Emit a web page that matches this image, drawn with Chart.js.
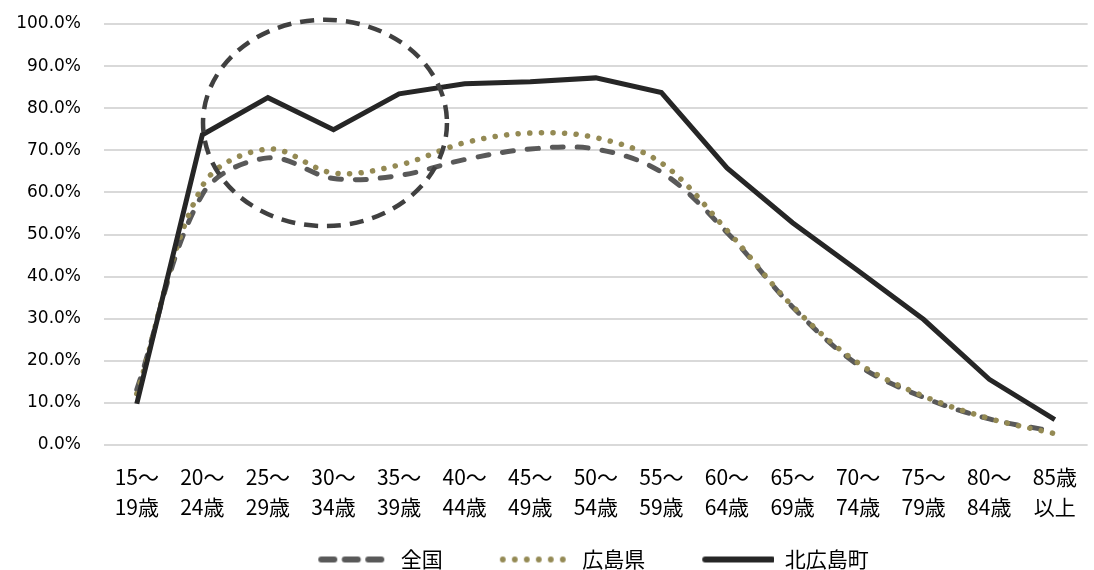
<!DOCTYPE html>
<html>
<head>
<meta charset="utf-8">
<title>労働力率</title>
<script src="https://cdn.jsdelivr.net/npm/chart.js@4"></script>
<style>
  body { margin: 0; background: #fff; }
</style>
</head>
<body>
<canvas id="graphi" width="1094" height="570"></canvas>
<script>
// Datos (%)
const ageLabels = [
    ['15～', '19歳'], ['20～', '24歳'], ['25～', '29歳'], ['30～', '34歳'], ['35～', '39歳'],
    ['40～', '44歳'], ['45～', '49歳'], ['50～', '54歳'], ['55～', '59歳'], ['60～', '64歳'],
    ['65～', '69歳'], ['70～', '74歳'], ['75～', '79歳'], ['80～', '84歳'], ['85歳', '以上']
];
const seriesNames = ['全国', '広島県', '北広島町'];
const zenkoku = [13.2, 59.5, 68.2, 63.3, 64.0, 67.8, 70.3, 70.3, 64.8, 50.5, 32.8, 19.0, 11.3, 6.2, 3.2];
const hiroshimaKen = [12.2, 61.5, 70.3, 64.6, 66.5, 71.8, 74.1, 73.0, 67.0, 51.0, 33.0, 19.5, 11.6, 6.3, 2.7];
const kitahiroshima = [9.8, 73.7, 82.5, 74.9, 83.4, 85.8, 86.3, 87.2, 83.7, 65.8, 52.8, 41.4, 29.8, 15.6, 6.0];
const yTicks = [0, 10, 20, 30, 40, 50, 60, 70, 80, 90, 100];

// elipse punteada (centro en índice de categoría / %)
const ellipse = {cx: 2.87, cy: 76.5, rx: 1.86, ry: 24.5};

const LEAD = 47;
const SAMPLE = 72;

const makeSample = (kind)=>{
    const c = document.createElement('canvas');
    c.width = LEAD + SAMPLE;
    c.height = 10;
    const ctx = c.getContext('2d');
    ctx.lineCap = 'round';
    ctx.lineWidth = 6;
    if (kind === 'dash') {
        ctx.strokeStyle = '#595959';
        for (let k = 0; k < 3; k++) {
            const x1 = LEAD + 3 + k * 23.5;
            ctx.beginPath();
            ctx.moveTo(x1, 5);
            ctx.lineTo(x1 + 13, 5);
            ctx.stroke();
        }
    } else if (kind === 'dot') {
        ctx.fillStyle = '#948a54';
        for (let k = 0; k < 6; k++) {
            ctx.beginPath();
            ctx.arc(LEAD + 3 + k * 12, 5, 2.9, 0, Math.PI * 2);
            ctx.fill();
        }
    } else {
        ctx.strokeStyle = '#262626';
        ctx.beginPath();
        ctx.moveTo(LEAD + 3, 5);
        ctx.lineTo(LEAD + 70, 5);
        ctx.stroke();
    }
    return c;
}

const ellipsePlugin = {
    id: 'ellipse',
    afterLayout(chart) {
        // la leyenda del original está algo desplazada a la derecha
        chart.legend.left += 46;
    },
    afterDatasetsDraw(chart) {
        const {ctx, scales: {x, y}} = chart;
        const cx = x.getPixelForValue(ellipse.cx);
        const cy = y.getPixelForValue(ellipse.cy);
        const rx = x.getPixelForValue(ellipse.cx + ellipse.rx) - cx;
        const ry = y.getPixelForValue(ellipse.cy - ellipse.ry) - cy;
        ctx.save();
        ctx.strokeStyle = '#404040';
        ctx.lineWidth = 4.5;
        ctx.setLineDash([14, 9]);
        ctx.beginPath();
        ctx.ellipse(cx, cy, rx, ry, 0, 0, Math.PI * 2);
        ctx.stroke();
        ctx.restore();
    }
}

const renderChart = ()=>{
    const samples = [makeSample('dash'), makeSample('dot'), makeSample('solid')];

    const data = {
        labels: ageLabels,
        datasets: [{
            label: seriesNames[0],
            data: zenkoku,
            order: 3,
            borderColor: '#595959',
            borderWidth: 5,
            borderDash: [11, 14],
            borderCapStyle: 'round',
            tension: 0.35,
            pointRadius: 0
        }, {
            label: seriesNames[1],
            data: hiroshimaKen,
            order: 2,
            borderColor: '#948a54',
            borderWidth: 5.5,
            borderDash: [0.1, 11.5],
            borderCapStyle: 'round',
            tension: 0.35,
            pointRadius: 0
        }, {
            label: seriesNames[2],
            data: kitahiroshima,
            order: 1,
            borderColor: '#262626',
            borderWidth: 5,
            borderJoinStyle: 'miter',
            tension: 0,
            pointRadius: 0
        }]
    }

    const options = {
        responsive: false,
        animation: false,
        layout: {padding: {top: 24, left: 0, right: 0, bottom: -10}},
        scales: {
            x: {
                offset: true,
                grid: {display: false, drawTicks: false, tickLength: 0, offset: true},
                border: {display: false},
                ticks: {
                    color: '#000',
                    padding: 17,
                    maxRotation: 0,
                    autoSkip: false,
                    font: {family: '"Noto Sans CJK JP"', size: 21, lineHeight: '30px'}
                },
                afterFit: (scale)=>{ scale.height = 94; }
            },
            y: {
                min: 0,
                max: 100,
                afterBuildTicks: (scale)=>{ scale.ticks = yTicks.map(v => ({value: v})); },
                grid: {color: '#d9d9d9', lineWidth: 2, drawTicks: false},
                border: {display: false},
                ticks: {
                    color: '#000',
                    padding: 23,
                    font: {family: '"DejaVu Sans"', size: 17},
                    callback: (v)=> v.toFixed(1) + '%'
                },
                afterFit: (scale)=>{
                    scale.width = 104;
                    // el padding de las etiquetas no debe empujar el área hacia abajo
                    scale.paddingTop = 10;
                    scale.paddingBottom = 10;
                }
            }
        },
        plugins: {
            legend: {
                position: 'bottom',
                labels: {
                    usePointStyle: true,
                    pointStyleWidth: LEAD + SAMPLE,
                    padding: 10,
                    color: '#000',
                    font: {family: '"Noto Sans CJK JP"', size: 21},
                    generateLabels: (chart)=> chart.data.datasets.map((ds, i)=>({
                        text: ds.label,
                        pointStyle: samples[i],
                        datasetIndex: i,
                        lineWidth: 0,
                        fontColor: '#000'
                    }))
                }
            },
            tooltip: {enabled: false}
        }
    }

    new Chart('graphi', {type: 'line', data, options, plugins: [ellipsePlugin]});
}

renderChart();
</script>
</body>
</html>
